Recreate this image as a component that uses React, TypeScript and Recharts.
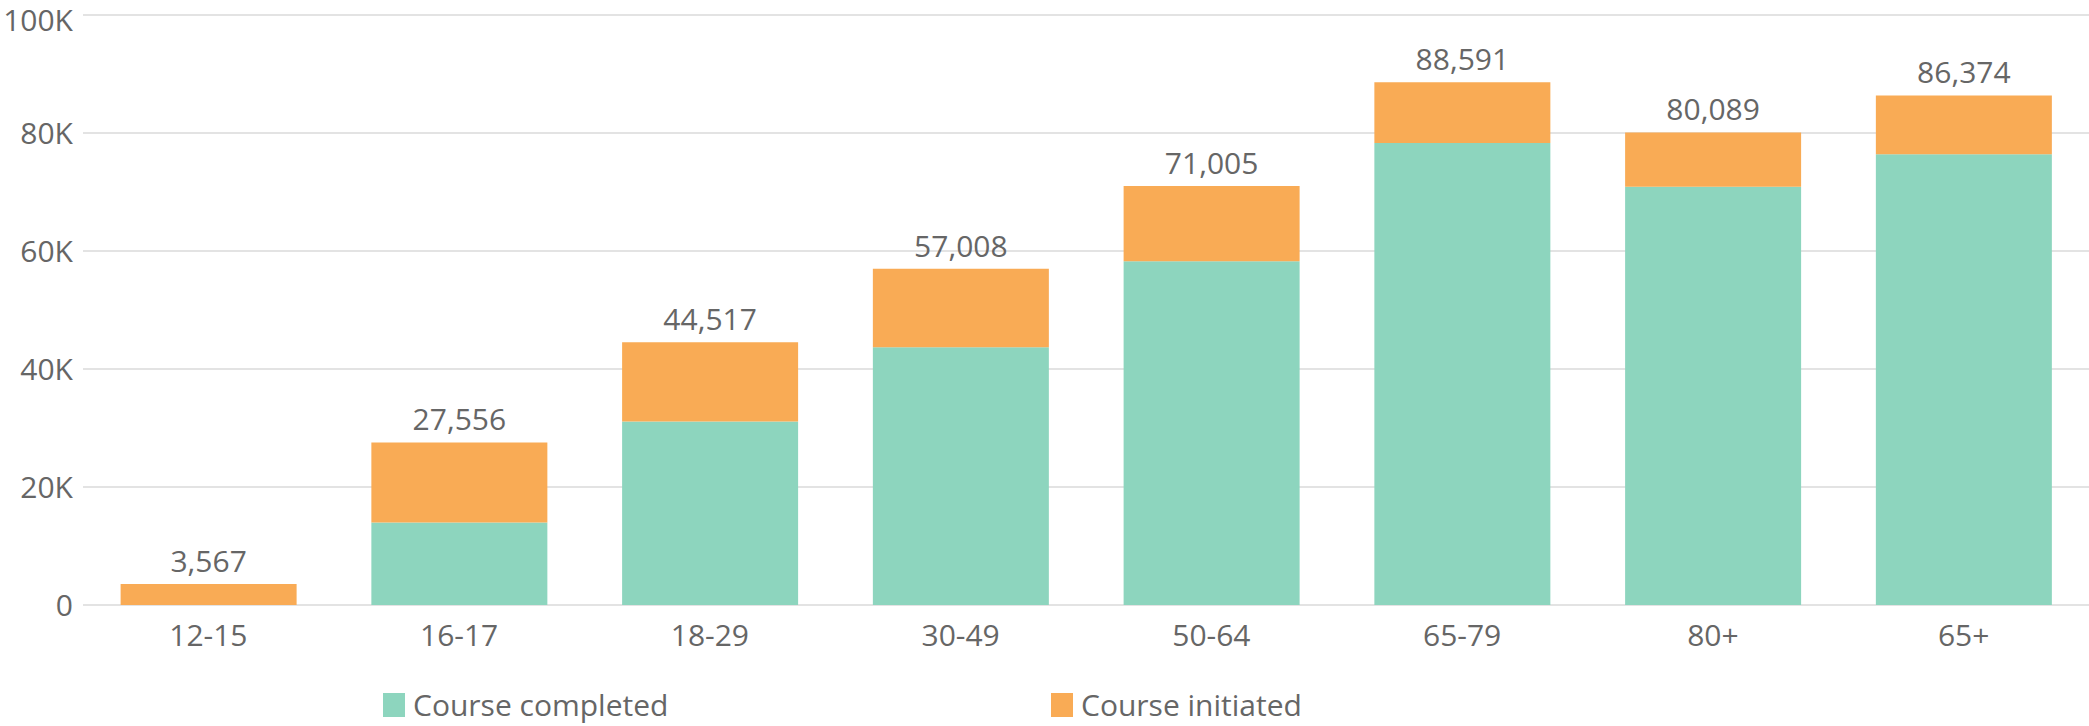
import React from 'react';
import { BarChart, Bar, XAxis, YAxis, CartesianGrid, Legend, LabelList } from 'recharts';

const ageGroups = ['12-15', '16-17', '18-29', '30-49', '50-64', '65-79', '80+', '65+'];
const courseCompleted = [0, 14000, 31100, 43700, 58250, 78300, 70900, 76400];
const courseTotals = [3567, 27556, 44517, 57008, 71005, 88591, 80089, 86374];
const yTicks = [0, 20000, 40000, 60000, 80000, 100000];

const data = ageGroups.map((group, i) => ({
  group,
  completed: courseCompleted[i],
  initiated: courseTotals[i] - courseCompleted[i],
  total: courseTotals[i],
}));

const textColor = '#666666';
const font = '"Open Sans", sans-serif';

const LegendContent = (props: any) => {
  const items = props.payload || [];
  return (
    <div
      style={{
        display: 'flex',
        height: 40,
        paddingLeft: 383,
        fontFamily: font,
        fontSize: 30,
        lineHeight: '40px',
        color: textColor,
      }}
    >
      {items.map((item: any) => (
        <div key={item.value} style={{ width: 668, height: 40, display: 'flex', alignItems: 'center' }}>
          <span style={{ width: 22, height: 24, background: item.color, display: 'inline-block', marginRight: 8 }} />
          <span>{item.value}</span>
        </div>
      ))}
    </div>
  );
};

export default function App() {
  return (
    <div style={{ position: 'absolute', left: 0, top: 0, background: '#fff' }}>
      <BarChart
        width={2089}
        height={726}
        data={data}
        margin={{ top: 15, right: 0, left: 0, bottom: 51 }}
        barCategoryGap="15%"
      >
        <CartesianGrid vertical={false} stroke="#e3e3e3" strokeWidth={2} />
        <XAxis
          dataKey="group"
          axisLine={false}
          tickLine={false}
          tickSize={0}
          tickMargin={20}
          tick={{ fill: textColor, fontSize: 30, fontFamily: font }}
        />
        <YAxis
          ticks={yTicks}
          domain={[0, 100000]}
          width={83}
          axisLine={false}
          tickLine={false}
          tickSize={0}
          tickMargin={10}
          tickFormatter={(v: number) => (v === 0 ? '0' : `${v / 1000}K`)}
          tick={{ fill: textColor, fontSize: 30, fontFamily: font }}
        />
        <Legend
          content={<LegendContent />}
          wrapperStyle={{ left: 0, top: 685, width: 2089, height: 40, margin: 0, padding: 0 }}
        />
        <Bar dataKey="completed" name="Course completed" stackId="a" fill="#8dd5be" isAnimationActive={false} />
        <Bar dataKey="initiated" name="Course initiated" stackId="a" fill="#f9ab55" isAnimationActive={false}>
          <LabelList
            dataKey="total"
            position="top"
            offset={12}
            formatter={(v: number) => v.toLocaleString('en-US')}
            style={{ fill: textColor, fontSize: 30, fontFamily: font }}
          />
        </Bar>
      </BarChart>
    </div>
  );
}
